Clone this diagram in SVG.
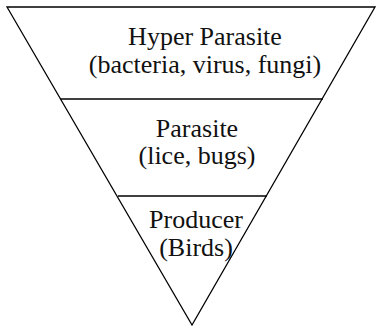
<svg xmlns="http://www.w3.org/2000/svg" width="376" height="327" viewBox="0 0 376 327">
<style>
.s{fill:none;stroke:#000;stroke-width:1.3}
text{font-family:"Liberation Serif","Times New Roman",serif;font-size:26px;fill:#111;text-anchor:middle}
</style>
<rect width="376" height="327" fill="#fff"/>
<g id="connectors">
<polygon class="s" points="7,7 375,7 192,325"/>
<line class="s" x1="60" y1="99" x2="323" y2="99"/>
<line class="s" x1="118" y1="196" x2="267" y2="196"/>
</g>
<g id="hyper-parasite">
<text x="205" y="45">Hyper Parasite</text>
<text x="205" y="73">(bacteria, virus, fungi)</text>
</g>
<g id="parasite">
<text x="197" y="137">Parasite</text>
<text x="197" y="164">(lice, bugs)</text>
</g>
<g id="producer">
<text x="196" y="228">Producer</text>
<text x="196" y="256">(Birds)</text>
</g>
</svg>
